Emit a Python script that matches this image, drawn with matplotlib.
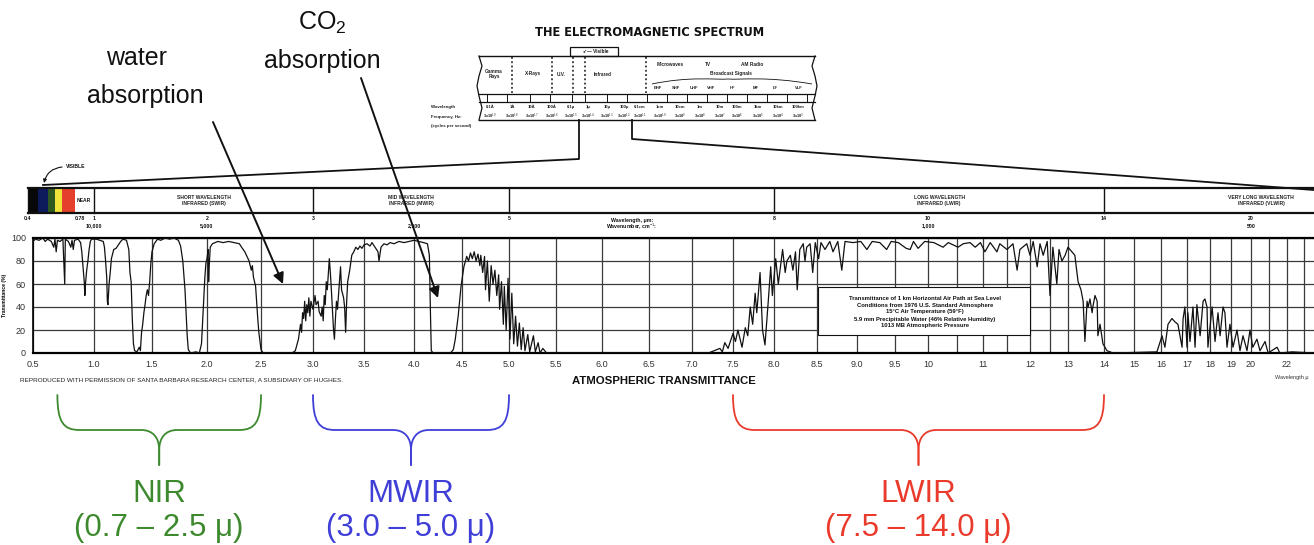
import numpy as np
import matplotlib
matplotlib.use("Agg")
import matplotlib.pyplot as plt
from matplotlib.path import Path
from matplotlib.patches import PathPatch, Rectangle

plt.rcParams['font.family'] = ['Liberation Sans', 'DejaVu Sans']
plt.rcParams['mathtext.fontset'] = 'custom'
plt.rcParams['mathtext.rm'] = 'Liberation Sans'
plt.rcParams['mathtext.it'] = 'Liberation Sans:italic'
plt.rcParams['mathtext.bf'] = 'Liberation Sans:bold'

# ---------------------------------------------------------------------------
# Atmospheric transmittance, 1 km horizontal path at sea level
# ---------------------------------------------------------------------------
wavelength_um = [
    0.50, 0.52, 0.55, 0.58, 0.60, 0.62, 0.65, 0.67, 0.68, 0.69, 0.70, 0.72, 0.745,
    0.76, 0.765, 0.79, 0.81, 0.82, 0.83, 0.84, 0.87, 0.89, 0.90, 0.91, 0.92, 0.925,
    0.93, 0.94, 0.95, 0.96, 0.97, 0.98, 1.02, 1.05, 1.08, 1.09, 1.10, 1.11, 1.115,
    1.12, 1.13, 1.14, 1.15, 1.17, 1.19, 1.21, 1.23, 1.25, 1.28, 1.30, 1.31, 1.32,
    1.33, 1.34, 1.35, 1.37, 1.39, 1.40, 1.41, 1.42, 1.43, 1.44, 1.45, 1.46, 1.47,
    1.48, 1.49, 1.50, 1.52, 1.55, 1.58, 1.62, 1.66, 1.70, 1.74, 1.76, 1.78, 1.80,
    1.82, 1.83, 1.85, 1.90, 1.93, 1.95, 1.97, 1.98, 1.99, 2.00, 2.01, 2.015, 2.02,
    2.03, 2.05, 2.10, 2.15, 2.20, 2.25, 2.30, 2.32, 2.35, 2.37, 2.39, 2.41, 2.42,
    2.43, 2.45, 2.46, 2.47, 2.48, 2.50, 2.52,
    2.80, 2.83, 2.86, 2.88, 2.89, 2.90, 2.91, 2.92, 2.93, 2.94, 2.95, 2.96, 2.97,
    2.98, 3.00, 3.02, 3.03, 3.05, 3.06, 3.08, 3.09, 3.10, 3.11, 3.12, 3.13, 3.14,
    3.16, 3.17, 3.18, 3.19, 3.20, 3.21, 3.22, 3.23, 3.24, 3.26, 3.27, 3.28, 3.30,
    3.31, 3.32, 3.33, 3.34, 3.36, 3.38, 3.40, 3.42, 3.44, 3.46, 3.48, 3.50, 3.53,
    3.56, 3.58, 3.61, 3.64, 3.65, 3.67, 3.70, 3.73, 3.76, 3.80, 3.85, 3.90, 3.95,
    4.00, 4.05, 4.10, 4.14, 4.16, 4.17, 4.18, 4.20,
    4.38, 4.41, 4.43, 4.46, 4.49, 4.52, 4.55, 4.57, 4.59, 4.61, 4.63, 4.65, 4.67,
    4.69, 4.70, 4.72, 4.74, 4.75, 4.77, 4.79, 4.81, 4.83, 4.85, 4.87, 4.89, 4.90,
    4.92, 4.94, 4.95, 4.97, 4.99, 5.01, 5.03, 5.05, 5.07, 5.09, 5.11, 5.13, 5.15,
    5.17, 5.20, 5.22, 5.26, 5.28, 5.31, 5.33, 5.36, 5.40,
    7.20, 7.34, 7.37, 7.40, 7.44, 7.50, 7.53, 7.56, 7.61, 7.65, 7.68, 7.71, 7.74,
    7.77, 7.79, 7.83, 7.86, 7.89, 7.93, 7.96, 7.98, 8.02, 8.05, 8.10, 8.13, 8.15,
    8.19, 8.22, 8.25, 8.27, 8.30, 8.34, 8.36, 8.38, 8.42, 8.45, 8.48, 8.52, 8.55,
    8.60, 8.66, 8.70, 8.76, 8.81, 8.85, 8.95, 9.05, 9.13, 9.20, 9.30, 9.39, 9.45,
    9.55, 9.67, 9.73, 9.78, 9.85, 9.95, 10.1, 10.26, 10.35, 10.52, 10.62, 10.75,
    10.85, 10.95, 11.04, 11.15, 11.29, 11.35, 11.50, 11.63, 11.72, 11.78, 11.93,
    12.00, 12.08, 12.18, 12.25, 12.33, 12.43, 12.50, 12.58, 12.69, 12.75, 12.83,
    12.92, 13.00, 13.11, 13.19, 13.28, 13.36, 13.42, 13.47, 13.53, 13.56, 13.61,
    13.67, 13.69, 13.75, 13.81, 13.83, 13.89, 13.97, 14.1, 14.3,
    15.85, 16.04, 16.15, 16.27, 16.42, 16.54, 16.65, 16.81, 16.85, 16.92, 17.0,
    17.04, 17.13, 17.26, 17.35, 17.43, 17.57, 17.70, 17.78, 17.87, 17.91, 18.1,
    18.24, 18.38, 18.48, 18.62, 18.71, 18.81, 18.95, 19.1, 19.3, 19.45, 19.6, 19.8,
    19.95, 20.1, 20.33, 20.5, 20.78, 20.95, 21.45, 21.6, 22.3, 23.6,
]
transmittance_pct = [
    97, 99, 98, 100, 97, 99, 97, 92, 99, 88, 98, 97, 99,
    60, 99, 97, 92, 98, 90, 98, 99, 96, 88, 75, 62, 50,
    60, 72, 80, 90, 97, 99, 99, 98, 97, 92, 80, 65, 45,
    42, 60, 70, 82, 90, 91, 94, 97, 99, 98, 90, 70, 62,
    30, 8, 2, 1, 5, 2, 18, 25, 35, 42, 50, 55, 50,
    62, 78, 88, 95, 99, 98, 100, 99, 100, 98, 93, 80, 55,
    15, 3, 0, 1, 0, 8, 45, 65, 78, 82, 90, 62, 75,
    92, 95, 97, 96, 97, 96, 95, 92, 88, 84, 80, 72, 76,
    66, 58, 44, 30, 18, 3, 0,
    0, 2, 12, 25, 18, 35, 30, 45, 28, 42, 35, 48, 32,
    45, 38, 50, 42, 45, 36, 32, 40, 28, 50, 42, 62, 55,
    82, 70, 55, 38, 22, 12, 30, 45, 38, 62, 75, 55, 48,
    40, 18, 45, 62, 72, 85, 88, 92, 90, 93, 91, 94, 95,
    93, 96, 92, 88, 80, 92, 95, 94, 96, 95, 97, 96, 97,
    98, 97, 96, 95, 85, 40, 2, 0,
    0, 3, 12, 32, 58, 75, 84, 80, 87, 82, 88, 80, 86,
    76, 85, 70, 84, 55, 80, 45, 76, 60, 72, 50, 68, 38,
    62, 25, 58, 20, 65, 12, 52, 8, 32, 6, 26, 3, 22,
    2, 16, 1, 15, 1, 9, 0, 4, 0,
    0, 4, 1, 9, 4, 17, 10, 20, 5, 22, 15, 40, 25,
    52, 35, 70, 20, 7, 45, 75, 50, 82, 60, 90, 70, 80,
    85, 72, 88, 55, 90, 95, 80, 92, 95, 70, 96, 82, 96,
    90, 97, 88, 97, 72, 97, 96, 97, 90, 97, 96, 90, 97,
    96, 91, 90, 97, 91, 97, 96, 92, 96, 92, 95, 96,
    92, 96, 88, 96, 88, 95, 90, 95, 72, 90, 95,
    85, 97, 75, 95, 85, 97, 50, 92, 60, 90, 80,
    85, 92, 88, 85, 62, 55, 45, 10, 45, 40, 47,
    35, 40, 50, 45, 15, 25, 8, 2, 0,
    1, 15, 5, 25, 30, 27, 25, 5, 30, 40, 5,
    35, 10, 40, 5, 42, 15, 45, 47, 40, 5, 40,
    10, 35, 15, 40, 35, 5, 25, 5, 20, 2, 15, 2,
    20, 5, 12, 2, 10, 0, 5, 0, 1, 0,
]

# x axis ticks (the chart's wavelength axis is stretched piecewise)
x_ticks = [0.5, 1.0, 1.5, 2.0, 2.5, 3.0, 3.5, 4.0, 4.5, 5.0, 5.5, 6.0, 6.5, 7.0,
           7.5, 8.0, 8.5, 9.0, 9.5, 10, 11, 12, 13, 14, 15, 16, 17, 18, 19, 20, 22]
x_tick_labels = ['0.5', '1.0', '1.5', '2.0', '2.5', '3.0', '3.5', '4.0', '4.5',
                 '5.0', '5.5', '6.0', '6.5', '7.0', '7.5', '8.0', '8.5', '9.0',
                 '9.5', '10', '11', '12', '13', '14', '15', '16', '17', '18',
                 '19', '20', '22']
x_minor_ticks = [10.5, 11.5, 12.5, 21, 23]
y_ticks = [0, 20, 40, 60, 80, 100]

# breakpoints of the stretched wavelength scale (µm -> figure pixels)
SCALE_UM = [0.5, 1, 1.5, 2, 2.5, 3, 3.5, 4, 4.5, 5, 5.5, 6, 6.5, 7, 7.5, 8, 8.5, 9,
            9.5, 10, 10.5, 11, 11.5, 12, 12.5, 13, 14, 15, 16, 17, 18, 19, 20, 21,
            22, 23, 24]
SCALE_PX = [33, 94, 152, 207, 261, 313, 364, 414, 462, 509, 556, 602, 649, 692,
            733, 774, 817, 857, 895, 928, 957, 983, 1007, 1030, 1050, 1068, 1104,
            1134, 1161, 1187, 1210, 1231, 1251, 1269, 1287, 1304, 1321]


def fwd(x):
    return np.interp(x, SCALE_UM, SCALE_PX)


def inv(p):
    return np.interp(p, SCALE_PX, SCALE_UM)


# infrared bands on the band bar
band_edges_um = [1, 3, 5, 8, 14]
band_names = ['SHORT WAVELENGTH\nINFRARED (SWIR)', 'MID WAVELENGTH\nINFRARED (MWIR)',
              '', 'LONG WAVELENGTH\nINFRARED (LWIR)',
              'VERY LONG WAVELENGTH\nINFRARED (VLWIR)']
bar_um_ticks = [1, 2, 3, 5, 8, 10, 14, 20]
bar_um_labels = ['1', '2', '3', '5', '8', '10', '14', '20']
bar_wn_ticks = [1, 2, 4, 10, 20]
bar_wn_labels = ['10,000', '5,000', '2,500', '1,000', '500']

# imaging windows
window_names = ['NIR', 'MWIR', 'LWIR']
window_ranges = [(0.7, 2.5), (3.0, 5.0), (7.5, 14.0)]
window_texts = ['(0.7 – 2.5 μ)', '(3.0 – 5.0 μ)', '(7.5 – 14.0 μ)']
window_colors = ['#3d8a2e', '#3f3fd8', '#ea3a2c']

# electromagnetic spectrum strip
em_sections = ['Gamma\nRays', 'X-Rays', 'U.V.', 'Infrared']
em_wave_labels = ['0.1Å', '1Å', '10Å', '100Å', '0.1μ', '1μ', '10μ', '100μ', '0.1cm',
                  '1cm', '10cm', '1m', '10m', '100m', '1km', '10km', '100km']
em_freq_exp = [19, 18, 17, 16, 15, 14, 13, 12, 11, 10, 9, 8, 7, 6, 5, 4, 3]
em_radio = ['EHF', 'SHF', 'UHF', 'VHF', 'HF', 'MF', 'LF', 'VLF']

# ---------------------------------------------------------------------------
W, H = 1314, 545
fig = plt.figure(figsize=(W / 100, H / 100), dpi=100)
fig.patch.set_facecolor('white')

X0, XR = 33, 1314
Y_TOP, Y_BOT = 238, 353

ax = fig.add_axes([X0 / W, 1 - Y_BOT / H, (XR - X0) / W, (Y_BOT - Y_TOP) / H])
ax.set_xscale('function', functions=(fwd, inv))
ax.set_xlim(0.5, float(inv(XR)))
ax.set_ylim(0, 100)
ax.plot(wavelength_um, transmittance_pct, color='#111111', lw=0.9, zorder=3)
ax.set_xticks(x_ticks)
ax.set_xticklabels(x_tick_labels)
ax.set_xticks(x_minor_ticks, minor=True)
ax.set_yticks(y_ticks)
ax.tick_params(which='both', length=0, pad=5, labelsize=6.5, colors='#333333')
ax.grid(which='both', axis='x', color='#3a3a3a', lw=0.9)
ax.grid(which='major', axis='y', color='#3a3a3a', lw=0.9)
for side in ('top', 'bottom'):
    ax.spines[side].set_linewidth(1.6)
ax.spines['left'].set_linewidth(1.2)
ax.spines['right'].set_visible(False)
ax.set_ylabel('Transmittance (%)', fontsize=3.6, fontweight='bold', labelpad=3)

# overlay in figure pixel coordinates for the surrounding artwork
ov = fig.add_axes([0, 0, 1, 1])
ov.set_xlim(0, W)
ov.set_ylim(H, 0)
ov.axis('off')
ov.patch.set_visible(False)

K = '#111111'

# info box inside the plot
ov.add_patch(Rectangle((818, 287), 212, 48, facecolor='white', edgecolor=K, lw=0.8, zorder=4))
info_lines = ['Transmittance of 1 km Horizontal Air Path at Sea Level',
              'Conditions from 1976 U.S. Standard Atmosphere',
              '15°C Air Temperature (59°F)',
              '5.9 mm Precipitable Water (46% Relative Humidity)',
              '1013 MB Atmospheric Pressure']
for i, line in enumerate(info_lines):
    ov.text(925, 298 + 7 * i, line, ha='center', va='center', fontsize=4.2,
            fontweight='bold', color=K, zorder=5)

# texts under the plot
ov.text(20, 380, 'REPRODUCED WITH PERMISSION OF SANTA BARBARA RESEARCH CENTER, '
        'A SUBSIDIARY OF HUGHES.', ha='left', va='center', fontsize=4.6, color='#222222')
ov.text(664, 381, 'ATMOSPHERIC TRANSMITTANCE', ha='center', va='center', fontsize=8.2,
        fontweight='bold', color=K)
ov.text(1275, 377, 'Wavelength μ', ha='left', va='center', fontsize=4, color='#333333')

# band bar
BT, BB = 188, 213
ov.plot([28, W], [BT, BT], color=K, lw=1.6)
ov.plot([28, W], [BB, BB], color=K, lw=1.6)
ov.plot([28, 28], [BT, BB], color=K, lw=1.0)
for e in band_edges_um:
    ov.plot([fwd(e)] * 2, [BT, BB], color=K, lw=1.0)
vis_strip = [(28, 38, '#080808'), (38, 48, '#0d1a5c'), (48, 55, '#2f5a1f'),
             (55, 62, '#f1e43a'), (62, 75, '#e5402b')]
for a, b, c in vis_strip:
    ov.add_patch(Rectangle((a, BT), b - a, BB - BT, facecolor=c, edgecolor='none'))
ov.text(84, 200.5, 'NEAR', ha='center', va='center', fontsize=3.6, fontweight='bold', color=K)
edges_px = [fwd(e) for e in band_edges_um] + [W + 104]
for i, name in enumerate(band_names):
    if name:
        ov.text((edges_px[i] + edges_px[i + 1]) / 2, 200.5, name, ha='center', va='center',
                fontsize=3.6, fontweight='bold', color='#222222', linespacing=1.1)
ov.text(28, 219, '0.4', ha='center', va='center', fontsize=3.8, fontweight='bold', color=K)
ov.text(80, 219, '0.78', ha='center', va='center', fontsize=3.8, fontweight='bold', color=K)
for t, lab in zip(bar_um_ticks, bar_um_labels):
    ov.text(fwd(t), 219, lab, ha='center', va='center', fontsize=3.8, fontweight='bold', color=K)
for t, lab in zip(bar_wn_ticks, bar_wn_labels):
    ov.text(fwd(t), 226, lab, ha='center', va='center', fontsize=3.8, fontweight='bold', color=K)
ov.text(632, 220.5, 'Wavelength, μm:', ha='center', va='center', fontsize=3.8,
        fontweight='bold', color=K)
ov.text(632, 227, r'Wavenumber, cm$^{-1}$:', ha='center', va='center', fontsize=3.8,
        fontweight='bold', color=K)

# "VISIBLE" pointer
ov.text(66, 167, 'VISIBLE', ha='left', va='center', fontsize=3.6, fontweight='bold', color=K)
ov.annotate('', xy=(44, 183), xytext=(62, 167),
            arrowprops=dict(arrowstyle='-|>', color=K, lw=0.8, mutation_scale=5,
                            connectionstyle='arc3,rad=0.35', shrinkA=0, shrinkB=0))

# zoom wedge from the spectrum strip down to the band bar
ov.plot([43, 579, 579], [185, 159, 120], color=K, lw=1.3)
ov.plot([W, 632, 632], [190, 139, 120], color=K, lw=1.3)

# electromagnetic spectrum strip
ov.text(650, 33, 'THE ELECTROMAGNETIC SPECTRUM', ha='center', va='center',
        fontsize=8.3, fontweight='bold', family='DejaVu Sans', color=K)
ov.add_patch(Rectangle((570, 47), 48, 9, facecolor='white', edgecolor=K, lw=0.9))
ov.text(596, 51.5, '↙— Visible', ha='center', va='center', fontsize=3.4,
        fontweight='bold', color=K, family=['Liberation Sans', 'DejaVu Sans'])
for y, lw in ((56, 1.0), (94, 0.9), (102, 0.9), (120, 1.0)):
    ov.plot([479, 815], [y, y], color=K, lw=lw)
for xe, s in ((479, -1), (815, 1)):
    ov.plot([xe, xe - 3 * s, xe, xe + 2 * s, xe, xe - 3 * s, xe],
            [56, 66, 76, 86, 96, 108, 120], color=K, lw=0.9)
em_cells = [487, 507, 530, 550, 572, 585, 607, 627, 647, 667, 687, 707, 727, 747,
            767, 787, 807]
for xc in em_cells:
    ov.plot([xc, xc], [94, 102], color=K, lw=0.7)
for xs in (512, 552, 573, 585, 646):
    ov.plot([xs, xs], [57, 93], color=K, lw=1.1, linestyle=(0, (1.2, 1.6)))
for x, s in zip((494, 533, 561, 603), em_sections):
    ov.text(x, 74, s, ha='center', va='center', fontsize=3.4, fontweight='bold',
            color='#222222', linespacing=1.0)
ov.text(670, 64, 'Microwaves', ha='center', va='center', fontsize=3.4, fontweight='bold', color='#222222')
ov.text(708, 64, 'TV', ha='center', va='center', fontsize=3.4, fontweight='bold', color='#222222')
ov.text(752, 64, 'AM Radio', ha='center', va='center', fontsize=3.4, fontweight='bold', color='#222222')
ov.text(731, 74, 'Broadcast Signals', ha='center', va='center', fontsize=3.4,
        fontweight='bold', color='#222222')
bv = [(652, 84), (690, 76), (715, 80), (728, 79), (741, 80), (766, 76), (812, 84)]
ov.add_patch(PathPatch(Path(bv, [Path.MOVETO, Path.CURVE4, Path.CURVE4, Path.CURVE4,
                                 Path.CURVE4, Path.CURVE4, Path.CURVE4]),
                       facecolor='none', edgecolor=K, lw=0.6))
for x, s in zip((658, 676, 694, 711, 733, 756, 775, 799), em_radio):
    ov.text(x, 88, s, ha='center', va='center', fontsize=3.0, fontweight='bold', color='#222222')
em_cols = [490, 512, 532, 552, 571, 588, 607, 624, 640, 660, 680, 700, 720, 737, 758, 778, 798]
for x, wl, ex in zip(em_cols, em_wave_labels, em_freq_exp):
    ov.text(x, 107, wl, ha='center', va='center', fontsize=3.0, fontweight='bold', color='#222222')
    ov.text(x, 116, r'3x10$^{%d}$' % ex, ha='center', va='center', fontsize=2.8,
            fontweight='bold', color='#222222')
ov.text(431, 107, 'Wavelength', ha='left', va='center', fontsize=3.2, fontweight='bold', color='#222222')
ov.text(431, 117, 'Frequency, Hz:', ha='left', va='center', fontsize=3.2, fontweight='bold', color='#222222')
ov.text(431, 126, '(cycles per second)', ha='left', va='center', fontsize=3.2,
        fontweight='bold', color='#222222')

# absorption call-outs
ov.text(137, 58, 'water', ha='center', va='center', fontsize=18, color=K)
ov.text(145, 96, 'absorption', ha='center', va='center', fontsize=18, color=K)
ov.text(322, 23, r'CO$_2$', ha='center', va='center', fontsize=18, color=K)
ov.text(322, 61, 'absorption', ha='center', va='center', fontsize=18, color=K)
arrow_kw = dict(arrowstyle='-|>', color=K, lw=1.4, mutation_scale=16, shrinkA=0, shrinkB=0)
ov.annotate('', xy=(283, 284), xytext=(213, 122), arrowprops=arrow_kw)
ov.annotate('', xy=(438, 298), xytext=(361, 78), arrowprops=arrow_kw)


# curly braces marking the imaging windows
def brace(x0, x1, color, top=395, flat=430, tip=465):
    xm = (x0 + x1) / 2
    for a, s in ((x0, 1), (x1, -1)):
        verts = [(a, top), (a, flat - 8), (a + 6 * s, flat), (a + 22 * s, flat),
                 (xm - 18 * s, flat), (xm - 6 * s, flat), (xm, flat + 8), (xm, flat + 20),
                 (xm, tip)]
        codes = [Path.MOVETO, Path.CURVE4, Path.CURVE4, Path.CURVE4, Path.LINETO,
                 Path.CURVE4, Path.CURVE4, Path.CURVE4, Path.LINETO]
        ov.add_patch(PathPatch(Path(verts, codes), facecolor='none', edgecolor=color,
                               lw=1.3, capstyle='round'))
    return xm


for name, (lo, hi), rng, col in zip(window_names, window_ranges, window_texts, window_colors):
    xm = brace(fwd(lo), fwd(hi), col)
    ov.text(xm, 494, name, ha='center', va='center', fontsize=22.5, color=col)
    ov.text(xm, 528, rng, ha='center', va='center', fontsize=22.5, color=col)

fig.savefig('out.png', dpi=100, facecolor='white')
